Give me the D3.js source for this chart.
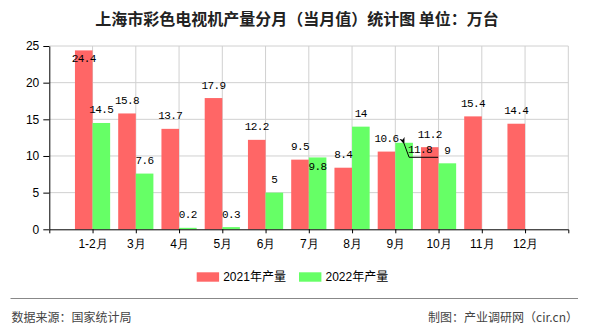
<!DOCTYPE html>
<html><head><meta charset="utf-8">
<script src="https://cdn.jsdelivr.net/npm/d3@7"></script>
<style>
html,body{margin:0;padding:0;background:#fff;}
svg{display:block;font-family:"Noto Sans CJK SC","Liberation Sans",sans-serif;}
</style></head>
<body><svg id="c" width="590" height="330"></svg>
<script>
const months = ["1-2月","3月","4月","5月","6月","7月","8月","9月","10月","11月","12月"];
const values2021 = [24.4,15.8,13.7,17.9,12.2,9.5,8.4,10.6,11.2,15.4,14.4];
const values2022 = [14.5,7.6,0.2,0.3,5,9.8,14,11.8,9,null,null];
const seriesNames = ["2021年产量","2022年产量"];
const yTicks = [0,5,10,15,20,25];
const titleText = "上海市彩色电视机产量分月（当月值）统计图 单位：万台";
const sourceText = "数据来源：国家统计局";
const creditText = "制图：产业调研网（cir.cn）";
// label collision handling (which month's 2022 label uses a leader line)
const leaderMonths = ["9月"];

const colors = ["#ff6666","#66ff66"];
const svg = d3.select("#c");
const L = 49.3, R = 568.3, T = 46, B = 229.3;
const x = d3.scalePoint().domain(months).range([L, R]).padding(1);
const y = d3.scaleLinear().domain([0,25]).range([B, T]);
const bw = 17.6;

svg.append("defs").append("marker").attr("id","arr")
  .attr("viewBox","0 0 10 10").attr("refX",1).attr("refY",5)
  .attr("markerWidth",7).attr("markerHeight",7).attr("orient","auto-start-reverse")
  .append("path").attr("d","M10,1 L0,5 L10,9 L7,5 Z").attr("fill","#000");

svg.append("text").attr("x",297).attr("y",18).attr("text-anchor","middle")
  .attr("dominant-baseline","central").attr("font-size",16).attr("font-weight","bold")
  .attr("fill","#222").text(titleText);

const g = svg.append("g");
g.selectAll(".hg").data(yTicks.filter(d=>d>0)).join("line")
  .attr("x1",L).attr("x2",R).attr("y1",d=>y(d)).attr("y2",d=>y(d))
  .attr("stroke","#d0d0d0").attr("stroke-width",1);
g.selectAll(".vg").data(months).join("line")
  .attr("x1",d=>x(d)).attr("x2",d=>x(d)).attr("y1",T).attr("y2",B)
  .attr("stroke","#d0d0d0");
g.append("line").attr("x1",R).attr("x2",R).attr("y1",T).attr("y2",B).attr("stroke","#d0d0d0");

const data = months.map((m,i)=>({m, a:values2021[i], b:values2022[i]}));
svg.append("g").selectAll("rect").data(data.filter(d=>d.a!=null)).join("rect")
  .attr("x",d=>x(d.m)-bw).attr("width",bw).attr("y",d=>y(d.a)).attr("height",d=>B-y(d.a))
  .attr("fill",colors[0]);
svg.append("g").selectAll("rect").data(data.filter(d=>d.b!=null)).join("rect")
  .attr("x",d=>x(d.m)).attr("width",bw).attr("y",d=>y(d.b)).attr("height",d=>B-y(d.b))
  .attr("fill",colors[1]);

const ya = svg.append("g").attr("transform",`translate(${L},0)`)
  .call(d3.axisLeft(y).tickValues(yTicks).tickSize(6).tickSizeOuter(0).tickPadding(4));
ya.selectAll("text").attr("font-size",12).attr("font-family","Liberation Sans, Arial, sans-serif").attr("fill","#000");
ya.selectAll("line,path").attr("stroke","#000");
const xa = svg.append("g").attr("transform",`translate(0,${B})`)
  .call(d3.axisBottom(x).tickSize(4).tickSizeOuter(4).tickPadding(6));
xa.selectAll("text").attr("font-size",12).attr("fill","#000");
xa.selectAll("line,path").attr("stroke","#000");

const lf = "Liberation Mono, DejaVu Sans Mono, monospace";
const lab = svg.append("g").attr("font-family",lf).attr("font-size",11).attr("letter-spacing",-0.6)
  .attr("fill","#000").attr("text-anchor","middle").attr("dominant-baseline","central");
function lblY(v){ return Math.max(y(v)-12.5, T+13); }
data.forEach(d=>{
  if(d.a!=null){
    lab.append("text").attr("x",x(d.m)-bw/2).attr("y",lblY(d.a)).text(d.a);
  }
  if(d.b!=null){
    const ya_ = d.a!=null ? lblY(d.a) : -100;
    let yb = lblY(d.b);
    const cx = x(d.m)+bw/2;
    if(Math.abs(yb-ya_)<12){
      if(leaderMonths.includes(d.m)){
        const tx = cx+16, ty = y(d.b)+7;
        lab.append("text").attr("x",tx).attr("y",ty).text(d.b);
        svg.append("path").attr("d",`M${cx},${y(d.b)+1} L${cx+5},${ty+7.5} L${cx+34},${ty+7.5}`)
          .attr("fill","none").attr("stroke","#000").attr("stroke-width",1)
          .attr("marker-start","url(#arr)");
        return;
      } else yb = y(d.b)+10;
    }
    lab.append("text").attr("x",cx).attr("y",yb).text(d.b);
  }
});

const lg = svg.append("g");
const lx = [196.7, 299];
seriesNames.forEach((s,i)=>{
  lg.append("rect").attr("x",lx[i]).attr("y",272.3).attr("width",22.4).attr("height",9.4).attr("fill",colors[i]);
  lg.append("text").attr("x",lx[i]+26.5).attr("y",277).attr("dominant-baseline","central")
    .attr("font-size",12).attr("font-family","Liberation Sans, Arial, Noto Sans CJK SC, sans-serif").attr("fill","#000").text(s);
});

svg.append("line").attr("x1",10.5).attr("x2",578).attr("y1",298.5).attr("y2",298.5).attr("stroke","#888").attr("stroke-width",1);
svg.append("text").attr("x",11.5).attr("y",316).attr("dominant-baseline","central").attr("font-size",12).attr("fill","#444").text(sourceText);
svg.append("text").attr("x",578).attr("y",316).attr("text-anchor","end").attr("dominant-baseline","central").attr("font-size",12).attr("fill","#444").text(creditText);
</script></body></html>
